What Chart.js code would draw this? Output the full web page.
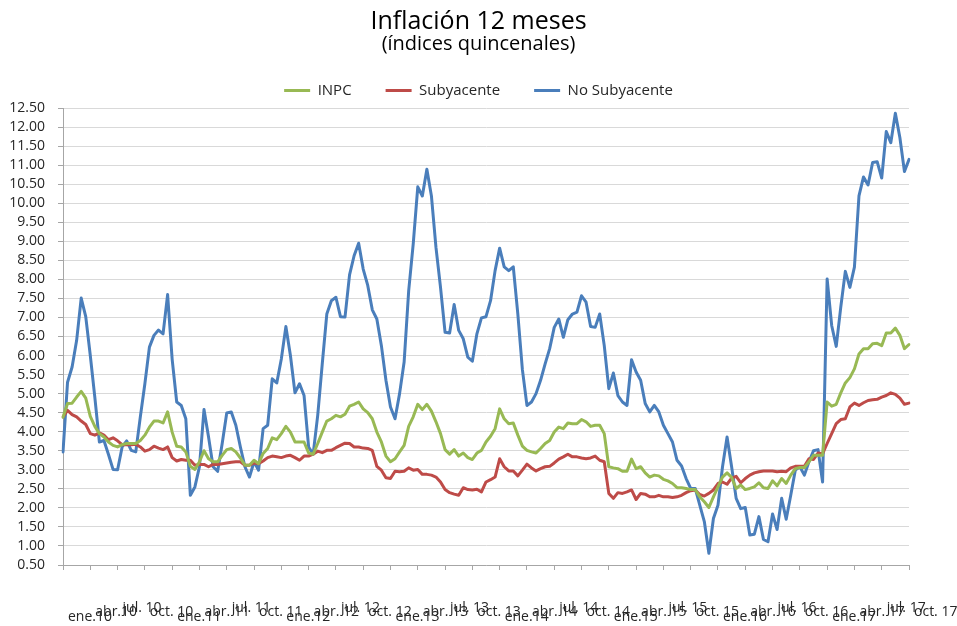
<!DOCTYPE html>
<html lang="es">
<head>
<meta charset="utf-8">
<title>Inflación 12 meses</title>
<script src="https://cdn.jsdelivr.net/npm/chart.js@4.4.0/dist/chart.umd.min.js"></script>
<style>
    html, body { margin: 0; padding: 0; background: #ffffff; }
</style>
</head>
<body>
<canvas id="grafico" width="957" height="626"></canvas>
<script>
// categorías: quincenas de ene 2010 a oct 2017
const mesesCortos = ['ene', 'feb', 'mar', 'abr', 'may', 'jun', 'jul', 'ago', 'sep', 'oct', 'nov', 'dic'];
const quincenas = [];
for (let anio = 2010; anio <= 2017; anio++) {
    mesesCortos.forEach(function (mes) {
        quincenas.push('1a ' + mes + ' ' + anio, '2a ' + mes + ' ' + anio);
    });
}
quincenas.length = 187;

// etiquetas del eje x (una por trimestre)
const etiquetas = [
    'ene.10', 'abr.10', 'jul. 10', 'oct. 10', 'ene.11', 'abr. 11', 'jul. 11', 'oct. 11',
    'ene.12', 'abr. 12', 'jul. 12', 'oct. 12', 'ene.13', 'abr. 13', 'jul. 13', 'oct. 13',
    'ene.14', 'abr. 14', 'jul. 14', 'oct. 14', 'ene.15', 'abr. 15', 'jul. 15', 'oct. 15',
    'ene.16', 'abr. 16', 'jul. 16', 'oct. 16', 'ene.17', 'abr. 17', 'jul. 17', 'oct. 17'
];

const inpc = [
    4.38, 4.74, 4.75, 4.91, 5.06, 4.88, 4.40, 4.14, 3.95, 3.86, 3.73, 3.64, 3.60, 3.66, 3.69, 3.69,
    3.69, 3.77, 3.91, 4.12, 4.28, 4.28, 4.23, 4.52, 3.99, 3.62, 3.60, 3.47, 3.09, 3.01, 3.21, 3.50,
    3.29, 3.21, 3.21, 3.38, 3.53, 3.56, 3.47, 3.31, 3.12, 3.12, 3.25, 3.16, 3.43, 3.56, 3.84, 3.79,
    3.95, 4.14, 3.99, 3.73, 3.73, 3.73, 3.44, 3.41, 3.69, 3.99, 4.28, 4.34, 4.43, 4.39, 4.46, 4.67,
    4.72, 4.78, 4.60, 4.50, 4.34, 3.99, 3.73, 3.36, 3.21, 3.29, 3.47, 3.64, 4.14, 4.39, 4.72, 4.58,
    4.72, 4.54, 4.26, 3.95, 3.53, 3.41, 3.53, 3.36, 3.44, 3.32, 3.27, 3.44, 3.51, 3.73, 3.88, 4.08,
    4.60, 4.34, 4.21, 4.23, 3.91, 3.62, 3.51, 3.47, 3.44, 3.56, 3.69, 3.77, 3.99, 4.12, 4.08, 4.23,
    4.21, 4.21, 4.32, 4.26, 4.14, 4.17, 4.17, 3.95, 3.08, 3.05, 3.03, 2.96, 2.96, 3.28, 3.03, 3.08,
    2.92, 2.81, 2.86, 2.84, 2.75, 2.71, 2.64, 2.53, 2.53, 2.51, 2.48, 2.48, 2.29, 2.16, 2.01, 2.29,
    2.55, 2.81, 2.92, 2.80, 2.51, 2.60, 2.48, 2.51, 2.55, 2.66, 2.53, 2.51, 2.71, 2.58, 2.77, 2.64,
    2.86, 3.03, 3.06, 3.06, 3.21, 3.38, 3.38, 3.38, 4.78, 4.67, 4.72, 5.02, 5.28, 5.42, 5.65, 6.04,
    6.18, 6.18, 6.31, 6.32, 6.26, 6.59, 6.59, 6.72, 6.53, 6.18, 6.29
];

const subyacente = [
    4.39, 4.56, 4.45, 4.39, 4.28, 4.19, 3.95, 3.91, 3.97, 3.91, 3.79, 3.84, 3.76, 3.66, 3.66, 3.66,
    3.67, 3.60, 3.49, 3.53, 3.62, 3.57, 3.53, 3.60, 3.32, 3.23, 3.27, 3.25, 3.25, 3.12, 3.14, 3.14,
    3.08, 3.14, 3.14, 3.16, 3.18, 3.20, 3.21, 3.21, 3.12, 3.12, 3.18, 3.16, 3.23, 3.32, 3.36, 3.34,
    3.32, 3.36, 3.38, 3.32, 3.25, 3.36, 3.36, 3.41, 3.49, 3.45, 3.51, 3.51, 3.58, 3.64, 3.70, 3.69,
    3.60, 3.60, 3.57, 3.56, 3.51, 3.09, 2.99, 2.79, 2.77, 2.96, 2.95, 2.96, 3.05, 2.99, 3.01, 2.88,
    2.88, 2.86, 2.81, 2.68, 2.48, 2.40, 2.36, 2.33, 2.53, 2.48, 2.47, 2.49, 2.42, 2.68, 2.74, 2.81,
    3.29, 3.08, 2.97, 2.97, 2.84, 2.99, 3.15, 3.05, 2.97, 3.03, 3.08, 3.09, 3.18, 3.28, 3.34, 3.41,
    3.34, 3.34, 3.31, 3.29, 3.31, 3.36, 3.25, 3.21, 2.38, 2.25, 2.40, 2.38, 2.42, 2.47, 2.22, 2.38,
    2.36, 2.29, 2.29, 2.33, 2.29, 2.29, 2.27, 2.29, 2.33, 2.40, 2.45, 2.47, 2.35, 2.31, 2.38, 2.47,
    2.64, 2.68, 2.62, 2.78, 2.83, 2.66, 2.77, 2.86, 2.92, 2.95, 2.97, 2.97, 2.97, 2.95, 2.96, 2.95,
    3.05, 3.09, 3.09, 3.09, 3.29, 3.27, 3.44, 3.42, 3.69, 3.95, 4.21, 4.32, 4.34, 4.65, 4.75, 4.69,
    4.76, 4.82, 4.84, 4.85, 4.91, 4.95, 5.02, 4.98, 4.88, 4.72, 4.75
];

const noSubyacente = [
    3.47, 5.30, 5.70, 6.40, 7.51, 7.02, 6.00, 4.90, 3.73, 3.77, 3.40, 3.01, 3.00, 3.60, 3.76, 3.51,
    3.47, 4.39, 5.26, 6.22, 6.53, 6.67, 6.57, 7.60, 5.90, 4.78, 4.69, 4.34, 2.33, 2.55, 3.08, 4.58,
    3.86, 3.08, 2.96, 3.69, 4.49, 4.52, 4.17, 3.60, 3.08, 2.81, 3.21, 2.99, 4.08, 4.17, 5.39, 5.28,
    5.91, 6.76, 6.00, 5.02, 5.26, 4.95, 3.60, 3.41, 4.43, 5.78, 7.09, 7.44, 7.53, 7.02, 7.01, 8.12,
    8.62, 8.95, 8.27, 7.84, 7.20, 6.96, 6.26, 5.35, 4.65, 4.34, 5.00, 5.83, 7.70, 8.93, 10.43, 10.19,
    10.89, 10.19, 8.84, 7.79, 6.61, 6.59, 7.34, 6.66, 6.44, 5.96, 5.85, 6.57, 6.99, 7.02, 7.44, 8.23,
    8.82, 8.33, 8.23, 8.33, 7.09, 5.63, 4.69, 4.78, 5.00, 5.35, 5.78, 6.18, 6.74, 6.96, 6.48, 6.94,
    7.09, 7.14, 7.57, 7.40, 6.76, 6.74, 7.09, 6.26, 5.13, 5.54, 4.95, 4.78, 4.69, 5.89, 5.57, 5.35,
    4.74, 4.52, 4.69, 4.52, 4.17, 3.95, 3.73, 3.25, 3.10, 2.77, 2.51, 2.51, 2.07, 1.64, 0.81, 1.72,
    2.07, 3.08, 3.86, 3.08, 2.25, 1.98, 2.01, 1.29, 1.31, 1.77, 1.17, 1.11, 1.84, 1.43, 2.25, 1.70,
    2.33, 2.99, 3.08, 2.86, 3.21, 3.50, 3.53, 2.68, 8.01, 6.79, 6.24, 7.27, 8.21, 7.79, 8.32, 10.19,
    10.69, 10.48, 11.07, 11.09, 10.66, 11.88, 11.59, 12.36, 11.72, 10.83, 11.15
];

// altura de línea por etiqueta: ene abajo, abr/oct en medio, jul arriba
const alturaEtiqueta = ['94px', '85px', '76px', '85px'];

const fuente = "'Open Sans', sans-serif";
Chart.defaults.font.family = fuente;
Chart.defaults.color = '#262626';

const ctx = document.getElementById('grafico');

new Chart(ctx, {
    type: 'line',
    data: {
        labels: quincenas,
        datasets: [{
            label: 'INPC',
            data: inpc,
            borderColor: '#98B954',
            backgroundColor: '#98B954',
            borderWidth: 3
        }, {
            label: 'Subyacente',
            data: subyacente,
            borderColor: '#BE4B48',
            backgroundColor: '#BE4B48',
            borderWidth: 3
        }, {
            label: 'No Subyacente',
            data: noSubyacente,
            borderColor: '#4A7EBB',
            backgroundColor: '#4A7EBB',
            borderWidth: 3
        }]
    },
    options: {
        responsive: false,
        animation: false,
        events: [],
        layout: {
            padding: { top: 0, left: 0, right: 0, bottom: 0 }
        },
        elements: {
            point: { radius: 0 },
            line: { tension: 0, borderJoinStyle: 'round', borderCapStyle: 'round' }
        },
        plugins: {
            tooltip: { enabled: false },
            title: {
                display: true,
                text: 'Inflación 12 meses',
                color: '#000000',
                font: { size: 25, weight: 'normal' },
                padding: { top: 7, bottom: 0 }
            },
            subtitle: {
                display: true,
                text: '(índices quincenales)',
                color: '#000000',
                font: { size: 20, weight: 'normal' },
                padding: { top: -5, bottom: -7 }
            },
            legend: {
                position: 'top',
                labels: {
                    usePointStyle: true,
                    pointStyle: 'line',
                    pointStyleWidth: 26,
                    padding: 34,
                    color: '#262626',
                    font: { size: 15 }
                }
            }
        },
        scales: {
            x: {
                type: 'category',
                offset: false,
                afterBuildTicks: function (escala) {
                    escala.ticks = escala.ticks.filter(t => t.value % 6 === 0);
                },
                afterFit: function (escala) {
                    escala.height = 61;
                    escala.paddingLeft = 0;
                    escala.paddingRight = 48;
                },
                grid: {
                    drawOnChartArea: false,
                    drawTicks: true,
                    tickLength: 5,
                    color: '#a6a6a6'
                },
                border: { display: true, color: '#a6a6a6', width: 1 },
                ticks: {
                    autoSkip: false,
                    maxRotation: 0,
                    minRotation: 0,
                    align: 'start',
                    labelOffset: 5,
                    padding: 0,
                    color: '#262626',
                    font: function (c) {
                        return { family: fuente, size: 14, lineHeight: alturaEtiqueta[c.index % 4] };
                    },
                    callback: function (valor, indice) {
                        return etiquetas[indice];
                    }
                }
            },
            y: {
                min: 0.5,
                max: 12.5,
                afterFit: function (escala) {
                    escala.width = 63;
                },
                grid: {
                    color: '#d9d9d9',
                    lineWidth: 1,
                    drawTicks: true,
                    tickLength: 5,
                    tickColor: '#a6a6a6'
                },
                border: { display: true, color: '#a6a6a6', width: 1 },
                ticks: {
                    stepSize: 0.5,
                    autoSkip: false,
                    padding: 13,
                    color: '#262626',
                    font: { size: 14 },
                    callback: function (valor) {
                        return valor.toFixed(2);
                    }
                }
            }
        }
    }
});
</script>
</body>
</html>
